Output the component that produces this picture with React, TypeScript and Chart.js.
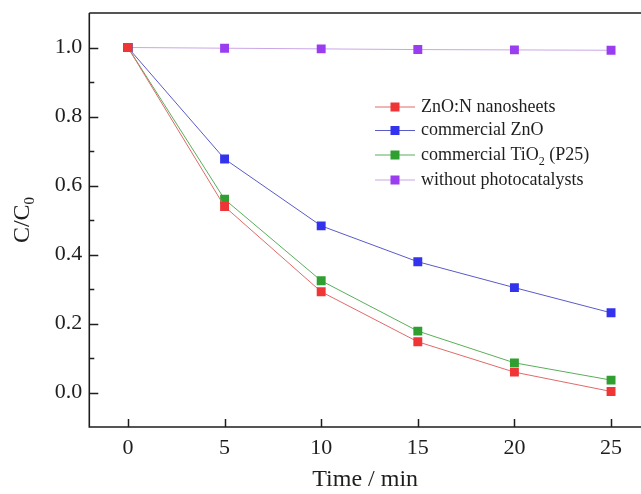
import React, { useEffect, useRef } from "react";
import { Chart, registerables } from "chart.js";

Chart.register(...registerables);

const times = [0, 5, 10, 15, 20, 25];
const znoN = [1.0, 0.539, 0.292, 0.147, 0.059, 0.003];
const comZnO = [1.0, 0.677, 0.483, 0.379, 0.304, 0.231];
const tio2 = [1.0, 0.56, 0.324, 0.178, 0.086, 0.036];
const without = [1.0, 0.998, 0.996, 0.994, 0.993, 0.992];
const xTicks = [0, 5, 10, 15, 20, 25];
const yTicks = [0, 0.2, 0.4, 0.6, 0.8, 1.0];
const yMinor = [0.1, 0.3, 0.5, 0.7, 0.9];

// legend labels: [main, subscript, rest]
const legendLabels: [string, string, string][] = [
  ["ZnO:N nanosheets", "", ""],
  ["commercial ZnO", "", ""],
  ["commercial TiO", "2", " (P25)"],
  ["without photocatalysts", "", ""],
];

const FONT = "'Liberation Serif', 'Times New Roman', serif";
const AXIS = "#1e1e1e";

const framePlugin = {
  id: "frame",
  afterDraw(chart: any) {
    const { ctx, chartArea, scales } = chart;
    const { left, top, bottom } = chartArea;
    const edge = chart.width;
    ctx.save();
    ctx.strokeStyle = AXIS;
    ctx.lineWidth = 1.6;
    ctx.beginPath();
    ctx.moveTo(left, top);
    ctx.lineTo(edge, top);
    ctx.moveTo(left, top);
    ctx.lineTo(left, bottom);
    ctx.lineTo(edge, bottom);
    ctx.stroke();
    // inward ticks
    ctx.lineWidth = 1.5;
    ctx.beginPath();
    xTicks.forEach((v) => {
      const px = Math.round(scales.x.getPixelForValue(v)) + 0.5;
      ctx.moveTo(px, bottom);
      ctx.lineTo(px, bottom - 8);
    });
    yTicks.forEach((v) => {
      const py = Math.round(scales.y.getPixelForValue(v)) + 0.5;
      ctx.moveTo(left, py);
      ctx.lineTo(left + 9, py);
    });
    yMinor.forEach((v) => {
      const py = Math.round(scales.y.getPixelForValue(v)) + 0.5;
      ctx.moveTo(left, py);
      ctx.lineTo(left + 5, py);
    });
    ctx.stroke();

    // y title C/C0
    ctx.fillStyle = AXIS;
    ctx.translate(23, (top + bottom) / 2);
    ctx.rotate(-Math.PI / 2);
    const main = "C/C";
    ctx.font = `24px ${FONT}`;
    const w1 = ctx.measureText(main).width;
    ctx.font = `15px ${FONT}`;
    const w2 = ctx.measureText("0").width;
    const total = w1 + w2;
    ctx.textBaseline = "middle";
    ctx.textAlign = "left";
    ctx.font = `24px ${FONT}`;
    ctx.fillText(main, -total / 2, 0);
    ctx.font = `15px ${FONT}`;
    ctx.fillText("0", -total / 2 + w1, 7);
    ctx.restore();

    // legend
    ctx.save();
    const rowsY = [107, 130.5, 155, 180];
    chart.data.datasets.forEach((ds: any, i: number) => {
      const y = rowsY[i];
      ctx.strokeStyle = ds.borderColor;
      ctx.lineWidth = 1.1;
      ctx.beginPath();
      ctx.moveTo(375, y);
      ctx.lineTo(415, y);
      ctx.stroke();
      ctx.fillStyle = ds.pointBackgroundColor;
      ctx.fillRect(395 - 4.5, y - 4.5, 9, 9);
      const [a, sub, rest] = legendLabels[i];
      ctx.fillStyle = AXIS;
      ctx.textBaseline = "middle";
      ctx.textAlign = "left";
      ctx.font = `18px ${FONT}`;
      ctx.fillText(a, 421, y);
      let x = 421 + ctx.measureText(a).width;
      if (sub) {
        ctx.font = `12px ${FONT}`;
        ctx.fillText(sub, x, y + 7);
        x += ctx.measureText(sub).width;
        ctx.font = `18px ${FONT}`;
        ctx.fillText(rest, x, y);
      }
    });
    ctx.restore();
  },
};

function mk(label: string, vals: number[], line: string, fill: string) {
  return {
    label,
    data: times.map((t, i) => ({ x: t, y: vals[i] })),
    borderColor: line,
    borderWidth: 1,
    pointStyle: "rect" as const,
    pointRadius: 6.3,
    pointBackgroundColor: fill,
    pointBorderColor: fill,
    pointBorderWidth: 0,
    tension: 0,
  };
}

function noPad(s: any) {
  s.paddingTop = 0;
  s.paddingBottom = 0;
  s.paddingLeft = 0;
  s.paddingRight = 0;
}

export default function App() {
  const ref = useRef<HTMLCanvasElement | null>(null);
  useEffect(() => {
    if (!ref.current) return;
    const chart = new Chart(ref.current, {
      type: "line",
      data: {
        datasets: [
          mk("ZnO:N nanosheets", znoN, "#df6a6a", "#ef3535"),
          mk("commercial ZnO", comZnO, "#5a5ac8", "#3333ee"),
          mk("commercial TiO2 (P25)", tio2, "#5aae5a", "#2f9f2f"),
          mk("without photocatalysts", without, "#c9a6e6", "#9a3cf0"),
        ],
      },
      options: {
        animation: false,
        responsive: false,
        layout: { autoPadding: false, padding: { left: 0, right: 0, top: 13, bottom: 0 } },
        plugins: { legend: { display: false }, tooltip: { enabled: false } },
        scales: {
          x: {
            type: "linear",
            min: -2,
            max: 26.55,
            afterBuildTicks: (s: any) => {
              s.ticks = xTicks.map((v) => ({ value: v }));
            },
            afterFit: (s: any) => {
              s.height = 67;
              noPad(s);
            },
            grid: { display: false, drawTicks: false },
            border: { display: false },
            ticks: { padding: 8, color: AXIS, font: { family: FONT, size: 22 }, maxRotation: 0, autoSkip: false },
            title: { display: true, text: "Time / min", color: AXIS, font: { family: FONT, size: 24 }, padding: { top: 9, bottom: 0 } },
          },
          y: {
            type: "linear",
            min: -0.1,
            max: 1.1,
            afterBuildTicks: (s: any) => {
              s.ticks = yTicks.map((v) => ({ value: v }));
            },
            afterFit: (s: any) => {
              s.width = 89.3;
              noPad(s);
            },
            grid: { display: false, drawTicks: false },
            border: { display: false },
            ticks: { padding: 7, color: AXIS, font: { family: FONT, size: 22 }, callback: (v: any) => Number(v).toFixed(1), autoSkip: false },
          },
        },
      },
      plugins: [framePlugin],
    });
    return () => chart.destroy();
  }, []);
  return (
    <div style={{ position: "absolute", left: 0, top: 0, width: 641, height: 494, background: "#fff" }}>
      <canvas ref={ref} width={641} height={494} />
    </div>
  );
}
